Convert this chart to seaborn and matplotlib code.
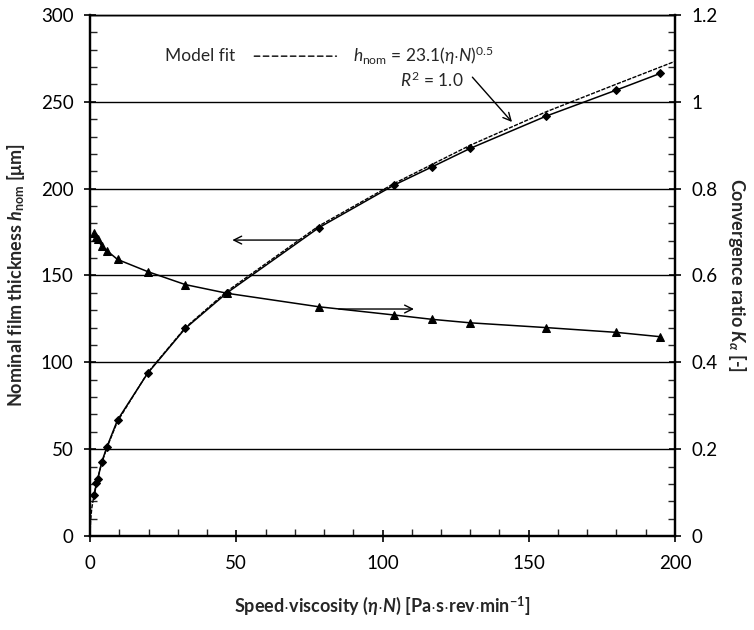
import numpy as np
import pandas as pd
import matplotlib
matplotlib.use("Agg")
import matplotlib.pyplot as plt
from matplotlib.ticker import MultipleLocator, FuncFormatter
import seaborn as sns

# speed*viscosity values (eta*N)
eta_n = [1.5, 2.2, 2.6, 4.0, 5.8, 9.4, 19.7, 32.6, 46.9, 78.2, 104.0, 117.0, 130.0, 156.0, 180.0, 195.0]
# nominal film thickness [um]
h_nom = [23.6, 30.7, 32.6, 42.6, 51.4, 66.8, 93.7, 119.6, 140.1, 177.5, 202.1, 212.6, 223.2, 241.8, 256.8, 266.4]
# convergence ratio K_alpha
k_alpha = [0.699, 0.688, 0.683, 0.668, 0.657, 0.637, 0.609, 0.579, 0.559, 0.528, 0.509, 0.499, 0.491, 0.480, 0.469, 0.459]

# model fit curve
fit_x = [0.0, 0.2, 0.6, 1.5, 2.2, 4.0, 5.8, 9.4, 19.7, 32.6, 46.9, 78.2, 104.0, 117.0, 130.0, 156.0, 180.0, 200.0]
fit_y = [0.0, 9.0, 16.0, 25.0, 30.5, 42.0, 51.0, 66.0, 94.0, 120.0, 141.0, 178.5, 203.0, 214.0, 225.0, 244.3, 260.2, 273.3]

df = pd.DataFrame({"x": eta_n, "h": h_nom, "k": k_alpha})
fit = pd.DataFrame({"x": fit_x, "y": fit_y})

sns.set_style("white")
plt.rcParams["font.family"] = ["Lato", "DejaVu Sans"]
plt.rcParams["mathtext.fontset"] = "custom"
plt.rcParams["mathtext.rm"] = "Lato"
plt.rcParams["mathtext.it"] = "Lato:italic"
plt.rcParams["mathtext.bf"] = "Lato:bold"
plt.rcParams["mathtext.bfit"] = "Lato:italic:bold"

fig = plt.figure(figsize=(7.54, 6.3), dpi=100)
ax = fig.add_axes([0.1194, 0.1492, 0.7758, 0.8270])
ax2 = ax.twinx()

# model fit (dashed)
ax.plot(fit.x, fit.y, color="black", lw=1.0, ls=(0, (3, 1)), zorder=3)
sns.lineplot(data=df, x="x", y="h", ax=ax, color="black", lw=1.1, marker="D",
             markersize=4.5, markeredgecolor="black", zorder=4)
sns.lineplot(data=df, x="x", y="k", ax=ax2, color="black", lw=1.1, marker="^",
             markersize=5.5, markeredgecolor="black", zorder=4)

ax.set_xlim(0, 200)
ax.set_ylim(0, 300)
ax2.set_ylim(0, 1.2)

ax.xaxis.set_major_locator(MultipleLocator(50))
ax.xaxis.set_minor_locator(MultipleLocator(10))
ax.yaxis.set_major_locator(MultipleLocator(50))
ax.yaxis.set_minor_locator(MultipleLocator(10))
ax2.yaxis.set_major_locator(MultipleLocator(0.2))
ax2.yaxis.set_minor_locator(MultipleLocator(0.04))
ax2.yaxis.set_major_formatter(FuncFormatter(lambda v, p: "%g" % round(v, 2)))

ax.grid(axis="y", which="major", color="black", lw=1.0)
ax.set_axisbelow(True)

for a in (ax, ax2):
    for s in a.spines.values():
        s.set_color("black")
        s.set_linewidth(1.0)
    a.spines["left"].set_linewidth(1.6)
    a.spines["right"].set_linewidth(1.6)
    a.spines["bottom"].set_linewidth(1.6)
    a.tick_params(which="major", direction="inout", length=8, width=1.2, labelsize=13.5, colors="black")
    a.tick_params(which="minor", direction="in", length=5, width=1.0)
ax.tick_params(axis="x", which="both", bottom=True, top=False, pad=10)
ax.tick_params(axis="y", which="both", left=True, right=False, pad=8)
ax2.tick_params(axis="y", which="both", right=True, left=False, pad=8)

ax.set_xlabel(r"Speed$\cdot$viscosity ($\mathbfit{\eta}$$\cdot$$\mathbfit{N}$) [Pa$\cdot$s$\cdot$rev$\cdot$min$^{\mathbf{-1}}$]",
              fontsize=13, fontweight="bold", labelpad=16)
ax.set_ylabel(r"Nominal film thickness $\mathbfit{h}_{\mathbf{nom}}$ [$\mathbf{\mu}$m]",
              fontsize=13, fontweight="bold", labelpad=10)
ax2.set_ylabel(r"Convergence ratio $\mathbfit{K}_{\mathbfit{\alpha}}$ [-]",
               fontsize=13, fontweight="bold", rotation=270, labelpad=22)

# arrows pointing to the axes
ax.annotate("", xy=(47.7, 170.4), xytext=(72.3, 170.4),
            arrowprops=dict(arrowstyle="->", color="black", lw=1.0, mutation_scale=14))
ax.annotate("", xy=(111.7, 130.7), xytext=(84.1, 130.7),
            arrowprops=dict(arrowstyle="->", color="black", lw=1.0, mutation_scale=14))
ax.annotate("", xy=(144.9, 237.2), xytext=(130.1, 265.4),
            arrowprops=dict(arrowstyle="->", color="black", lw=1.0, mutation_scale=14))

# model fit legend text
ax.text(25.6, 276.3, "Model fit", fontsize=12.5, va="center", ha="left")
ax.annotate("", xy=(85.2, 276.3), xytext=(55.2, 276.3),
            arrowprops=dict(arrowstyle="-", color="black", lw=1.0, ls=(0, (4, 2.5))))
ax.text(90.0, 276.3, r"$h_{\mathrm{nom}}$ = 23.1($\eta$$\cdot$$N$)$^{0.5}$", fontsize=12.5, va="center", ha="left")
ax.text(106.0, 262.6, r"$R^{2}$ = 1.0", fontsize=12.5, va="center", ha="left")

fig.savefig("out.png", dpi=100)
